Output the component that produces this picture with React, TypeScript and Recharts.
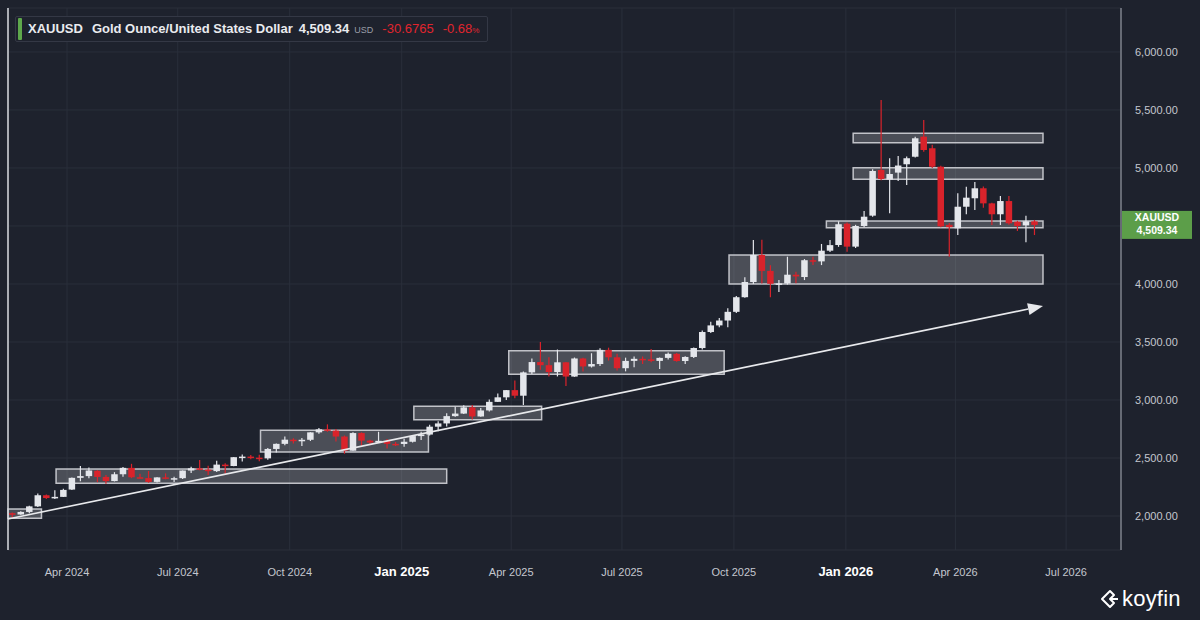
import React from 'react';
import {
  ComposedChart,
  Bar,
  XAxis,
  YAxis,
  CartesianGrid,
  ReferenceArea,
  ReferenceLine,
} from 'recharts';

// ---------- data ----------
const FIRST_CANDLE = '2024-02-16'; // weekly candles, one per week

const opens = [
  2024, 2013, 2035, 2083, 2179, 2155, 2165, 2228, 2329, 2344,
  2390, 2337, 2301, 2360, 2415, 2334, 2327, 2294, 2333, 2322,
  2326, 2392, 2411, 2400, 2387, 2443, 2431, 2507, 2512, 2503,
  2497, 2578, 2622, 2658, 2654, 2657, 2721, 2747, 2736, 2685,
  2563, 2715, 2650, 2633, 2648, 2622, 2621, 2640, 2689, 2702,
  2770, 2798, 2861, 2883, 2936, 2858, 2910, 2984, 3023, 3085,
  3037, 3238, 3327, 3300, 3241, 3325, 3202, 3358, 3289, 3310,
  3432, 3368, 3274, 3337, 3355, 3350, 3337, 3363, 3398, 3336,
  3371, 3448, 3586, 3643, 3685, 3760, 3886, 4017, 4250, 4113,
  4002, 4005, 4080, 4060, 4205, 4195, 4287, 4336, 4520, 4322,
  4500, 4589, 4983, 4900, 4960, 5032, 5097, 5270, 5170, 5011,
  4510, 4480, 4666, 4739, 4825, 4695, 4601, 4715, 4537, 4505,
  4540,
];
const highs = [
  2031, 2041, 2088, 2195, 2185, 2222, 2236, 2331, 2431, 2418,
  2395, 2353, 2378, 2422, 2450, 2364, 2388, 2335, 2368, 2339,
  2392, 2424, 2483, 2433, 2477, 2455, 2509, 2531, 2525, 2529,
  2586, 2625, 2685, 2671, 2672, 2722, 2758, 2790, 2750, 2694,
  2721, 2721, 2657, 2726, 2664, 2638, 2665, 2697, 2726, 2786,
  2817, 2886, 2942, 2955, 2956, 2930, 3005, 3057, 3087, 3168,
  3245, 3358, 3500, 3368, 3435, 3327, 3366, 3365, 3403, 3446,
  3451, 3398, 3365, 3374, 3375, 3439, 3366, 3409, 3405, 3378,
  3453, 3599, 3675, 3707, 3791, 3897, 4059, 4380, 4381, 4161,
  4035, 4235, 4106, 4215, 4235, 4345, 4379, 4540, 4530, 4510,
  4629, 4990, 5586, 5083, 5103, 5100, 5270, 5414, 5200, 5020,
  4525, 4782, 4839, 4879, 4840, 4700, 4758, 4758, 4545, 4589,
  4552,
];
const lows = [
  1984, 2011, 2024, 2078, 2146, 2146, 2163, 2224, 2300, 2325,
  2292, 2277, 2298, 2339, 2326, 2325, 2287, 2288, 2316, 2293,
  2318, 2370, 2395, 2353, 2380, 2365, 2428, 2470, 2490, 2471,
  2485, 2547, 2610, 2625, 2603, 2647, 2709, 2726, 2643, 2537,
  2563, 2605, 2613, 2632, 2583, 2603, 2596, 2633, 2656, 2695,
  2730, 2772, 2855, 2880, 2832, 2856, 2900, 2982, 3000, 3015,
  2957, 3225, 3260, 3202, 3203, 3120, 3200, 3245, 3280, 3294,
  3340, 3255, 3247, 3283, 3310, 3325, 3268, 3350, 3330, 3311,
  3363, 3435, 3578, 3627, 3628, 3750, 3882, 4000, 4004, 3886,
  3931, 3995, 4006, 4034, 4163, 4163, 4276, 4320, 4278, 4310,
  4490, 4580, 4895, 4609, 4888, 4853, 5090, 5140, 5000, 4490,
  4235, 4422, 4601, 4638, 4657, 4508, 4508, 4510, 4457, 4360,
  4422,
];
const closes = [
  2013, 2035, 2083, 2179, 2155, 2165, 2225, 2329, 2344, 2392,
  2337, 2301, 2360, 2415, 2334, 2327, 2294, 2333, 2322, 2326,
  2392, 2411, 2400, 2387, 2443, 2431, 2507, 2512, 2503, 2497,
  2578, 2622, 2658, 2654, 2657, 2721, 2747, 2736, 2685, 2563,
  2715, 2650, 2633, 2648, 2622, 2621, 2640, 2689, 2702, 2770,
  2798, 2861, 2883, 2936, 2858, 2910, 2984, 3023, 3085, 3037,
  3238, 3327, 3300, 3241, 3325, 3202, 3358, 3289, 3310, 3432,
  3368, 3274, 3337, 3355, 3350, 3337, 3363, 3398, 3336, 3371,
  3448, 3586, 3643, 3685, 3760, 3886, 4017, 4250, 4113, 4002,
  4005, 4080, 4065, 4205, 4198, 4287, 4335, 4515, 4322, 4500,
  4580, 4974, 4905, 4948, 5021, 5084, 5256, 5155, 5011, 4497,
  4490, 4666, 4744, 4825, 4695, 4601, 4715, 4523, 4500, 4540,
  4509.34,
];

// support / resistance boxes drawn on the chart
const zoneFrom = ['START', '2024-03-23', '2024-09-07', '2025-01-11', '2025-03-30', '2025-09-27', '2025-12-16', '2026-01-07', '2026-01-07'];
const zoneTo = ['2024-03-11', '2025-02-07', '2025-01-23', '2025-04-26', '2025-09-23', '2026-06-12', '2026-06-12', '2026-06-12', '2026-06-12'];
const zoneLow = [1980, 2282, 2552, 2830, 3221, 4000, 4485, 4902, 5218];
const zoneHigh = [2060, 2405, 2739, 2946, 3425, 4250, 4543, 5002, 5299];

// trend arrow
const arrowFrom = { date: 'START', value: 1975 };
const arrowTo = { date: '2026-06-12', value: 3810 };

const xTickDates = ['2024-04-01', '2024-07-01', '2024-10-01', '2025-01-01', '2025-04-01', '2025-07-01', '2025-10-01', '2026-01-01', '2026-04-01', '2026-07-01'];
const xTickLabels = ['Apr 2024', 'Jul 2024', 'Oct 2024', 'Jan 2025', 'Apr 2025', 'Jul 2025', 'Oct 2025', 'Jan 2026', 'Apr 2026', 'Jul 2026'];
const yTicks = [2000, 2500, 3000, 3500, 4000, 4500, 5000, 5500, 6000];

const SYMBOL = 'XAUUSD';
const NAME = 'Gold Ounce/United States Dollar';
const LAST = 4509.34;
const CHANGE = -30.6765;
const CHANGE_PCT = -0.68;

// ---------- helpers ----------
const DAY = 86400000;
const toT = (s: string) => Date.parse(s + 'T00:00:00Z');
const ANCHOR = toT('2024-04-01');
const X_DOMAIN: [number, number] = [ANCHOR - 48.5 * DAY, ANCHOR + 866.1 * DAY];
const Y_DOMAIN: [number, number] = [1707, 6379];
const dateOf = (s: string) => (s === 'START' ? X_DOMAIN[0] : toT(s));

const data = opens.map((o, i) => ({
  t: toT(FIRST_CANDLE) + i * 7 * DAY,
  open: o,
  high: highs[i],
  low: lows[i],
  close: closes[i],
  range: [lows[i], highs[i]],
}));

const UP = '#e4e6eb';
const DOWN = '#d9232b';
const BG = '#1e222d';
const FONT = '"Liberation Sans", Arial, Helvetica, sans-serif';

const fmt2 = (v: number) =>
  v.toLocaleString('en-US', { minimumFractionDigits: 2, maximumFractionDigits: 2 });

const Candle = (props: any) => {
  const { x, y, width, height, payload } = props;
  if (!payload || x == null || y == null) return null;
  const { open, close, high, low } = payload;
  const top = Math.min(y, y + height);
  const h = Math.abs(height);
  const span = high - low;
  const k = span > 0 ? h / span : 0;
  const yo = top + (high - open) * k;
  const yc = top + (high - close) * k;
  const up = close >= open;
  const color = up ? UP : DOWN;
  const bTop = Math.min(yo, yc);
  const bH = Math.max(Math.abs(yo - yc), 1.5);
  const cx = x + width / 2;
  return (
    <g>
      <line x1={cx} x2={cx} y1={top} y2={top + h} stroke={color} strokeWidth={1.2} />
      <rect x={x} y={bTop} width={width} height={bH} fill={color} />
    </g>
  );
};

const ArrowShape = (p: any) => {
  const { x1, y1, x2, y2 } = p;
  if ([x1, y1, x2, y2].some((v) => v == null || isNaN(v))) return null;
  const ang = Math.atan2(y2 - y1, x2 - x1);
  const L = 15;
  const W = 6;
  const bx = x2 - L * Math.cos(ang);
  const by = y2 - L * Math.sin(ang);
  const px = -Math.sin(ang) * W;
  const py = Math.cos(ang) * W;
  return (
    <g>
      <line x1={x1} y1={y1} x2={bx} y2={by} stroke="#e8e9ec" strokeWidth={1.6} />
      <polygon points={`${x2},${y2} ${bx + px},${by + py} ${bx - px},${by - py}`} fill="#e8e9ec" />
    </g>
  );
};

const XTick = (props: any) => {
  const { x, y, payload } = props;
  const idx = xTickDates.findIndex((d) => toT(d) === payload.value);
  const label = idx >= 0 ? xTickLabels[idx] : '';
  const bold = label.startsWith('Jan');
  return (
    <text
      x={x}
      y={y + 18}
      textAnchor="middle"
      fill={bold ? '#ffffff' : '#c4c7cf'}
      fontSize={bold ? 13 : 11}
      fontWeight={bold ? 700 : 400}
      fontFamily={FONT}
    >
      {label}
    </text>
  );
};

// price-axis tick; the label that sits under the last-price tag is covered by it
const YTick = (props: any) => {
  const { x, y, payload } = props;
  const v = payload.value;
  if (Math.abs(v - LAST) < 60) return null;
  return (
    <text x={x} y={y} dy="0.355em" textAnchor="start" fill="#c4c7cf" fontSize={11} fontFamily={FONT}>
      {fmt2(v)}
    </text>
  );
};

const PriceTag = (props: any) => {
  const vb = props.viewBox || {};
  const x = (vb.x || 0) + (vb.width || 0) + 1;
  const y = vb.y || 0;
  return (
    <g>
      <rect x={x} y={y - 14} width={70} height={28} fill="#5c9e49" />
      <text x={x + 35} y={y - 3.5} textAnchor="middle" fill="#ffffff" fontSize={10.5} fontWeight={700} fontFamily={FONT}>
        {SYMBOL}
      </text>
      <text x={x + 35} y={y + 9.5} textAnchor="middle" fill="#ffffff" fontSize={10.5} fontWeight={700} fontFamily={FONT}>
        {fmt2(LAST)}
      </text>
    </g>
  );
};

export default function App() {
  return (
    <div
      style={{
        position: 'absolute',
        left: 0,
        top: 0,
        width: 1200,
        height: 620,
        background: BG,
        overflow: 'hidden',
        fontFamily: FONT,
      }}
    >
      <ComposedChart
        width={1200}
        height={620}
        data={data}
        margin={{ top: 8, right: 0, left: 8, bottom: 40 }}
      >
        <CartesianGrid stroke="#2a2f3b" strokeWidth={1} />
        <XAxis
          dataKey="t"
          type="number"
          scale="linear"
          domain={X_DOMAIN}
          allowDataOverflow
          ticks={xTickDates.map(toT)}
          tick={<XTick />}
          axisLine={false}
          tickLine={false}
          height={30}
          interval={0}
        />
        <YAxis
          orientation="right"
          type="number"
          domain={Y_DOMAIN}
          allowDataOverflow
          ticks={yTicks}
          tick={<YTick />}
          axisLine={{ stroke: '#7d818b', strokeWidth: 1.5 }}
          tickLine={false}
          tickSize={0}
          tickMargin={14}
          width={79}
          interval={0}
        />
        {zoneLow.map((lo, i) => (
          <ReferenceArea
            key={'z' + i}
            x1={dateOf(zoneFrom[i])}
            x2={dateOf(zoneTo[i])}
            y1={lo}
            y2={zoneHigh[i]}
            fill="#ffffff"
            fillOpacity={0.2}
            stroke="#d0d2d7"
            strokeWidth={1.5}
            strokeOpacity={0.9}
            ifOverflow="visible"
          />
        ))}
        <ReferenceLine x={X_DOMAIN[0]} stroke="#d9dbe0" strokeWidth={1.5} ifOverflow="visible" />
        <Bar dataKey="range" shape={<Candle />} barSize={6.5} isAnimationActive={false} />
        <ReferenceLine
          segment={[
            { x: dateOf(arrowFrom.date), y: arrowFrom.value },
            { x: dateOf(arrowTo.date), y: arrowTo.value },
          ]}
          stroke="#e8e9ec"
          strokeWidth={1.6}
          shape={<ArrowShape />}
          ifOverflow="visible"
        />
        <ReferenceLine y={LAST} stroke="none" strokeOpacity={0} label={<PriceTag />} ifOverflow="visible" />
      </ComposedChart>

      {/* header legend */}
      <div
        style={{
          position: 'absolute',
          left: 15,
          top: 16,
          width: 473,
          height: 26,
          border: '1px solid #343845',
          borderRadius: 2,
          boxSizing: 'border-box',
          background: BG,
        }}
      >
        <div style={{ position: 'absolute', left: 2, top: 1, width: 4, height: 22, background: '#5ea84c', borderRadius: 1 }} />
        <div style={{ position: 'absolute', left: 12, top: 4, whiteSpace: 'nowrap', fontSize: 13, lineHeight: '16px' }}>
          <span style={{ fontWeight: 700, color: '#eaebef' }}>{SYMBOL}</span>
          <span style={{ fontWeight: 700, color: '#eaebef', marginLeft: 9 }}>{NAME}</span>
          <span style={{ fontWeight: 700, color: '#eaebef', marginLeft: 6 }}>{fmt2(LAST)}</span>
          <span style={{ fontSize: 9, color: '#9a9ea8', marginLeft: 5 }}>USD</span>
          <span style={{ color: '#e0252d', marginLeft: 9 }}>{CHANGE.toFixed(4)}</span>
          <span style={{ color: '#e0252d', marginLeft: 9 }}>{CHANGE_PCT.toFixed(2)}</span>
          <span style={{ color: '#e0252d', fontSize: 8 }}>%</span>
        </div>
      </div>

      {/* koyfin mark */}
      <div style={{ position: 'absolute', left: 1099, top: 586, display: 'flex', alignItems: 'center' }}>
        <svg width="22" height="22" viewBox="0 0 22 22">
          <path d="M3 11 L11 3 L15 7 L11 11 L15 15 L11 19 Z" fill="none" stroke="#ffffff" strokeWidth={2} strokeLinejoin="round" />
          <path d="M11 11 L19 11" stroke="#ffffff" strokeWidth={2} />
        </svg>
        <span style={{ color: '#ffffff', fontSize: 22, marginLeft: 1, letterSpacing: 0.2 }}>koyfin</span>
      </div>
    </div>
  );
}
